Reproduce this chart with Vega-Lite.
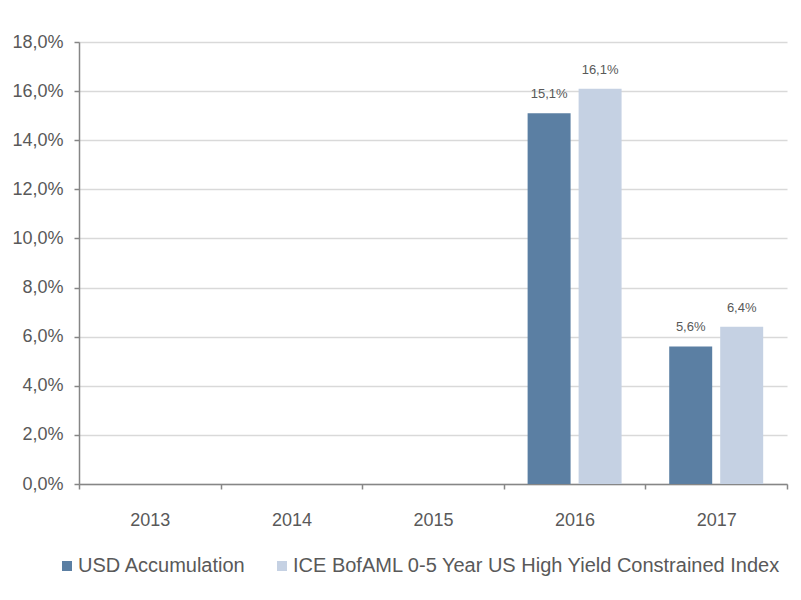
{
  "$schema": "https://vega.github.io/schema/vega-lite/v6.json",
  "width": 708,
  "height": 442,
  "autosize": "none",
  "padding": {"left": 79, "top": 42, "right": 14, "bottom": 116},
  "background": "white",
  "config": {
    "locale": {"number": {"decimal": ",", "thousands": ".", "grouping": [3], "currency": ["", " €"]}},
    "font": "Liberation Sans",
    "view": {"stroke": null}
  },
  "data": {
    "values": [
      {"year": "2013", "series": "USD Accumulation", "value": null},
      {"year": "2013", "series": "ICE BofAML 0-5 Year US High Yield Constrained Index", "value": null},
      {"year": "2014", "series": "USD Accumulation", "value": null},
      {"year": "2014", "series": "ICE BofAML 0-5 Year US High Yield Constrained Index", "value": null},
      {"year": "2015", "series": "USD Accumulation", "value": null},
      {"year": "2015", "series": "ICE BofAML 0-5 Year US High Yield Constrained Index", "value": null},
      {"year": "2016", "series": "USD Accumulation", "value": 0.151},
      {"year": "2016", "series": "ICE BofAML 0-5 Year US High Yield Constrained Index", "value": 0.161},
      {"year": "2017", "series": "USD Accumulation", "value": 0.056},
      {"year": "2017", "series": "ICE BofAML 0-5 Year US High Yield Constrained Index", "value": 0.064}
    ]
  },
  "encoding": {
    "x": {
      "field": "year", "type": "nominal",
      "scale": {"domain": ["2013", "2014", "2015", "2016", "2017"], "paddingInner": 0, "paddingOuter": 0},
      "axis": {
        "title": null, "labelAngle": 0, "tickBand": "extent",
        "domainColor": "#868686", "domainWidth": 1.5, "tickColor": "#868686", "tickWidth": 1.5, "tickSize": 5,
        "labelFontSize": 18, "labelColor": "#595959", "labelPadding": 22, "grid": false
      }
    },
    "xOffset": {
      "field": "series", "type": "nominal",
      "scale": {"domain": ["USD Accumulation", "ICE BofAML 0-5 Year US High Yield Constrained Index"], "paddingInner": 0.157, "paddingOuter": 0.467}
    },
    "y": {
      "field": "value", "type": "quantitative",
      "scale": {"domain": [0, 0.18], "nice": false},
      "axis": {
        "title": null, "format": ".1%", "values": [0, 0.02, 0.04, 0.06, 0.08, 0.1, 0.12, 0.14, 0.16, 0.18],
        "domainColor": "#868686", "domainWidth": 1.5, "tickColor": "#868686", "tickWidth": 1.5, "tickSize": 5,
        "labelFontSize": 18, "labelColor": "#595959", "labelPadding": 11,
        "grid": true, "gridColor": "#d9d9d9", "gridWidth": 1.5
      }
    }
  },
  "layer": [
    {
      "mark": {"type": "bar"},
      "encoding": {
        "color": {
          "field": "series", "type": "nominal",
          "scale": {"domain": ["USD Accumulation", "ICE BofAML 0-5 Year US High Yield Constrained Index"], "range": ["#5b7fa3", "#c5d1e3"]},
          "legend": {
            "title": null, "orient": "none", "direction": "horizontal", "legendX": -22, "legendY": 514,
            "symbolType": "square", "symbolSize": 100, "symbolStrokeWidth": 0,
            "labelFontSize": 20, "labelColor": "#595959", "labelOffset": 1, "columnPadding": 26, "labelLimit": 600
          }
        }
      }
    },
    {
      "mark": {"type": "text", "baseline": "bottom", "dy": -12, "fontSize": 13, "color": "#595959"},
      "encoding": {
        "text": {"field": "value", "type": "quantitative", "format": ".1%"}
      }
    }
  ]
}
